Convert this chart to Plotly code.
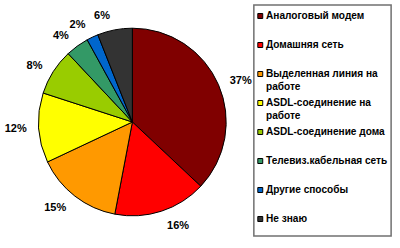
import plotly.graph_objects as go

labels = ["Аналоговый модем", "Домашняя сеть", "Выделенная линия на<br>работе",
          "ASDL-соединение на<br>работе", "ASDL-соединение дома",
          "Телевиз.кабельная сеть", "Другие способы", "Не знаю"]
values = [37, 16, 15, 12, 8, 4, 2, 6]
colors = ["#800000", "#FF0000", "#FF9900", "#FFFF00", "#99CC00", "#339966", "#0066CC", "#333333"]

W, H = 400, 248
FONT = "Liberation Sans, Arial, sans-serif"
flat = [l.replace("<br>", " ") for l in labels]

cx, cy0, r = 129, 122, 95
pad = 9  # labels sit a little away from the pie

def dom(rr):
    return dict(x=[(cx - rr) / W, (cx + rr) / W], y=[(H - cy0 - rr) / H, (H - cy0 + rr) / H])

def ghost(show):
    # invisible, slightly larger pie carrying the percentage labels
    return go.Pie(
        labels=flat, values=values, sort=False, direction="clockwise", rotation=0,
        marker=dict(colors=["rgba(0,0,0,0)"] * len(values), line=dict(width=0)),
        texttemplate="<b>%{value}%</b>",
        textposition=["outside" if s else "none" for s in show],
        textfont=dict(family=FONT, size=11, color="#000000"),
        domain=dom(r + pad), showlegend=False, hoverinfo="skip",
    )

n = len(values)
fig = go.Figure()
# alternate slices between two label layers so neighbouring labels never get shifted
fig.add_trace(ghost([i % 2 == 0 for i in range(n)]))
fig.add_trace(ghost([i % 2 == 1 for i in range(n)]))
# visible pie
fig.add_trace(go.Pie(
    labels=flat, values=values, sort=False, direction="clockwise", rotation=0,
    marker=dict(colors=colors, line=dict(color="#000000", width=1)),
    textinfo="none", domain=dom(r), showlegend=False, hoverinfo="label+value",
))

# legend box
lx0, lx1, ly0, ly1 = 252, 391, 5, 236
shapes = [dict(type="rect", xref="paper", yref="paper",
               x0=lx0 / W, x1=lx1 / W, y0=1 - ly1 / H, y1=1 - ly0 / H,
               line=dict(color="#707070", width=1.5), fillcolor="white", layer="below")]
annotations = []
step = 29
for i, (lab, col) in enumerate(zip(labels, colors)):
    cy = 16 + step * i
    shapes.append(dict(type="rect", xref="paper", yref="paper",
                       x0=256 / W, x1=261 / W, y0=1 - (cy + 2.5) / H, y1=1 - (cy - 2.5) / H,
                       line=dict(color="#000000", width=1), fillcolor=col))
    annotations.append(dict(xref="paper", yref="paper", x=262 / W, y=1 - (cy - 8) / H,
                            xanchor="left", yanchor="top", align="left", showarrow=False,
                            text="<b>" + lab + "</b>",
                            font=dict(family=FONT, size=10.1, color="#000000")))

fig.update_layout(
    width=W, height=H,
    margin=dict(l=0, r=0, t=0, b=0),
    paper_bgcolor="white", plot_bgcolor="white",
    shapes=shapes, annotations=annotations,
)
fig.write_html("out.html")
